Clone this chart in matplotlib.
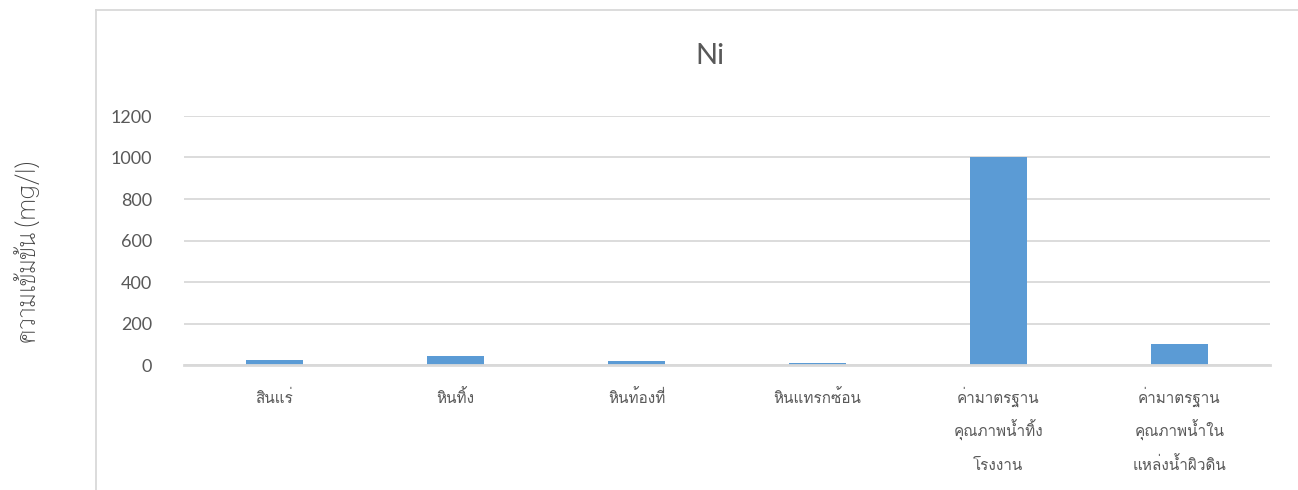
import matplotlib
matplotlib.use("Agg")
import matplotlib.pyplot as plt
from matplotlib.lines import Line2D

# Ni concentration per sample type
categories = ["สินแร่", "หินทิ้ง", "หินท้องที่", "หินแทรกซ้อน",
              "ค่ามาตรฐาน\nคุณภาพน้ำทิ้ง\nโรงงาน",
              "ค่ามาตรฐาน\nคุณภาพน้ำใน\nแหล่งน้ำผิวดิน"]
ni_values = [24, 45, 19, 11, 1000, 100]
yticks = [0, 200, 400, 600, 800, 1000, 1200]

plt.rcParams["font.family"] = ["Lato", "Loma", "DejaVu Sans"]
thai = ["Loma", "DejaVu Sans"]
grey = "#595959"
grid = "#D9D9D9"

fig = plt.figure(figsize=(12.98, 4.9), dpi=100)
ax = fig.add_axes([184 / 1298, 1 - 365 / 490, (1270 - 184) / 1298, (365 - 116) / 490])

x = range(len(categories))
ax.bar(x, ni_values, width=0.315, color="#5B9BD5", zorder=3)

ax.set_xlim(-0.5, len(categories) - 0.5)
ax.set_ylim(0, 1200)
ax.set_yticks(yticks)
ax.set_yticklabels([str(v) for v in yticks], fontsize=13, color=grey)
ax.set_xticks(list(x))
ax.set_xticklabels([])
ax.tick_params(axis="both", length=0)
ax.tick_params(axis="y", pad=23)

# category labels, one text per line so the line gaps stay even
line_y = [-0.153, -0.287, -0.42]
for i, lab in enumerate(categories):
    for k, part in enumerate(lab.split("\n")):
        ax.text(i, line_y[k], part, transform=ax.get_xaxis_transform(), fontsize=11,
                color=grey, ha="center", va="baseline", family=thai)

ax.grid(axis="y", color=grid, linewidth=1.3, zorder=0)
for s in ["top", "right", "left"]:
    ax.spines[s].set_visible(False)
ax.spines["bottom"].set_color(grid)
ax.spines["bottom"].set_linewidth(2)
ax.spines["bottom"].set_zorder(4)

# chart area border (left and top edges)
fig.add_artist(Line2D([96 / 1298, 96 / 1298], [0, 1 - 10 / 490], color=grid, linewidth=1.3))
fig.add_artist(Line2D([96 / 1298, 1], [1 - 10 / 490, 1 - 10 / 490], color=grid, linewidth=1.3))

fig.text(710 / 1298, 1 - 56 / 490, "Ni", fontsize=21, color=grey, ha="center", va="center")
fig.text(27 / 1298, 1 - 252 / 490, "ความเข้มข้น (mg/l)", fontsize=19, color="#404040",
         rotation=90, ha="center", va="center", family=["Thasadith", "Loma", "DejaVu Sans"])

fig.savefig("out.png", dpi=100)
